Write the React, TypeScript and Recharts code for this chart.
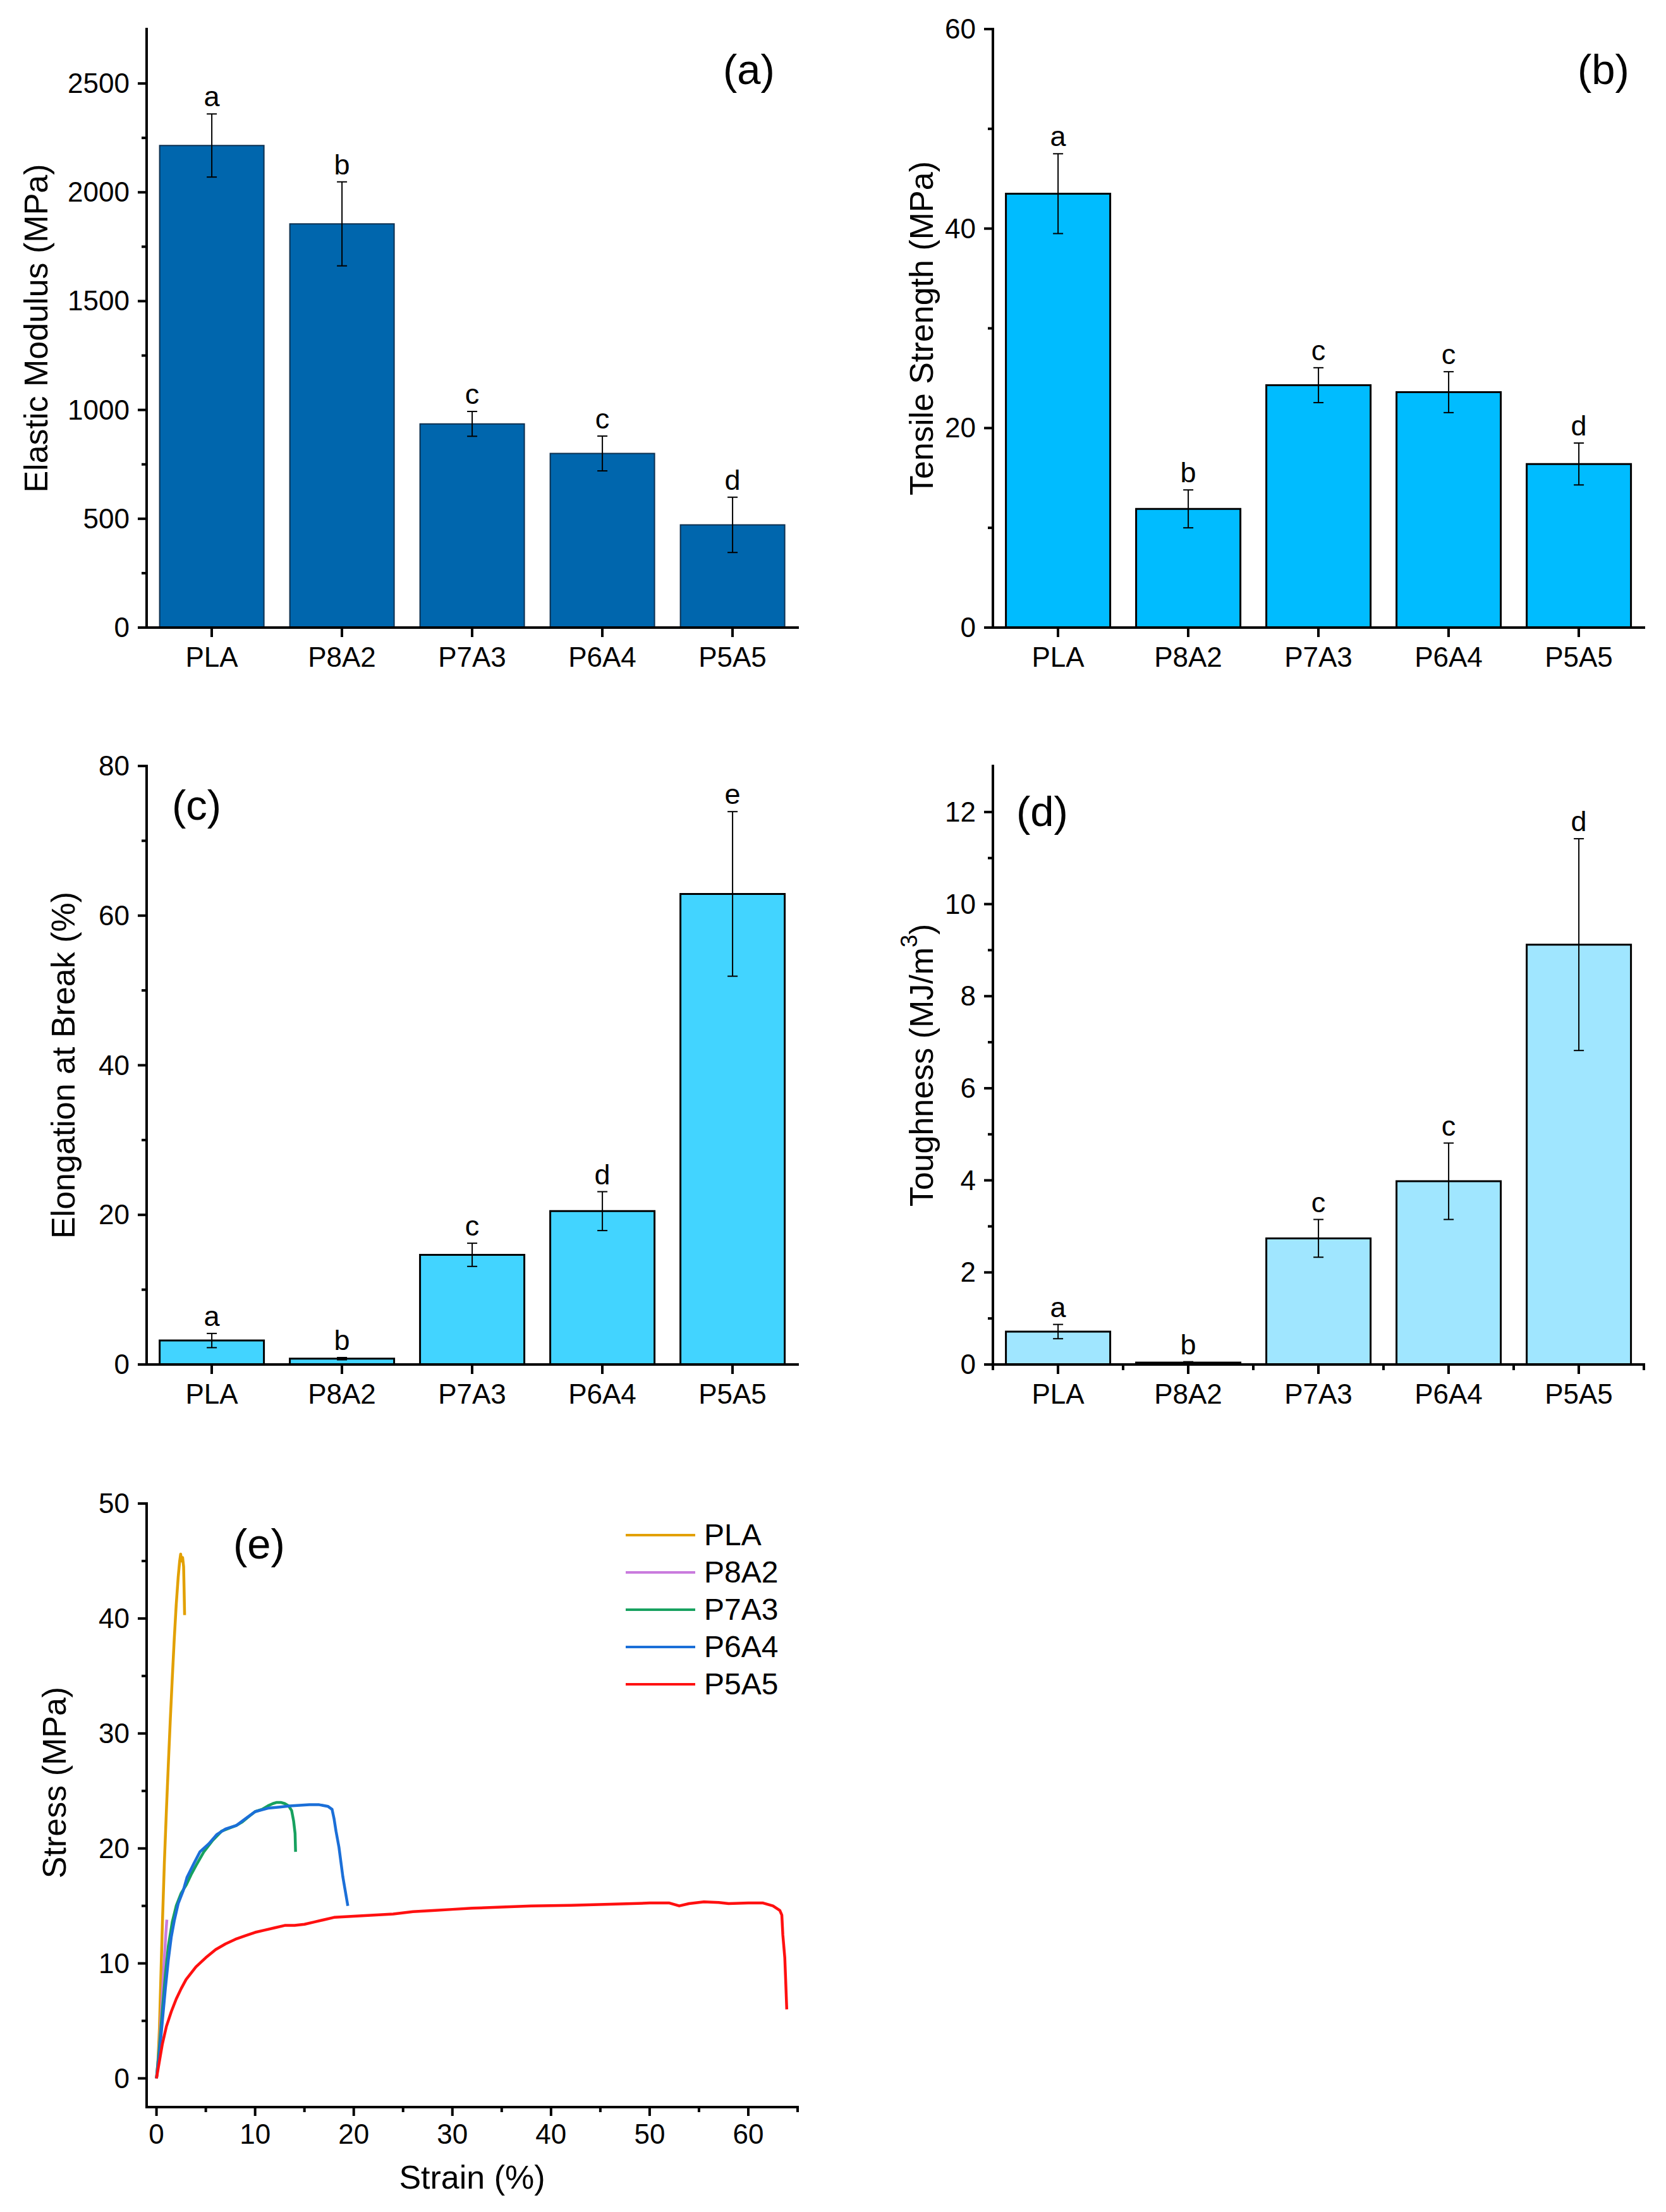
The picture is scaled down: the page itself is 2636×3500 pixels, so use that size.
import {
  ComposedChart,
  LineChart,
  Bar,
  Line,
  XAxis,
  YAxis,
  ErrorBar,
  LabelList,
  Legend,
  Customized,
} from 'recharts'

const FONT = '"Liberation Sans", Arial, Helvetica, sans-serif'

const categories = ['PLA', 'P8A2', 'P7A3', 'P6A4', 'P5A5']

// (a) elastic modulus
const modulus = [2215, 1855, 936, 800, 472]
const modulusErr = [145, 193, 57, 80, 127]
const modulusLetters = ['a', 'b', 'c', 'c', 'd']
const modulusTicks = [0, 500, 1000, 1500, 2000, 2500]
const modulusMinor = [250, 750, 1250, 1750, 2250]

// (b) tensile strength
const strength = [43.5, 11.9, 24.3, 23.6, 16.4]
const strengthErr = [4.0, 1.9, 1.75, 2.05, 2.1]
const strengthLetters = ['a', 'b', 'c', 'c', 'd']
const strengthTicks = [0, 20, 40, 60]
const strengthMinor = [10, 30, 50]

// (c) elongation at break
const elongation = [3.2, 0.78, 14.66, 20.5, 62.9]
const elongationErr = [0.95, 0.15, 1.55, 2.6, 11.0]
const elongationLetters = ['a', 'b', 'c', 'd', 'e']
const elongationTicks = [0, 20, 40, 60, 80]
const elongationMinor = [10, 30, 50, 70]

// (d) toughness
const toughness = [0.715, 0.04, 2.74, 3.98, 9.12]
const toughnessErr = [0.155, 0.02, 0.41, 0.83, 2.3]
const toughnessLetters = ['a', 'b', 'c', 'c', 'd']
const toughnessTicks = [0, 2, 4, 6, 8, 10, 12]
const toughnessMinor = [1, 3, 5, 7, 9, 11]

// (e) stress-strain curves
const plaStrain = [0, 0.15, 0.3, 0.45, 0.6, 0.8, 1.0, 1.2, 1.4, 1.6, 1.8, 2.0, 2.2, 2.35, 2.45, 2.55, 2.65, 2.75, 2.8, 2.85]
const plaStress = [0, 1.5, 4.4, 9, 13.5, 18.8, 23.2, 27.3, 31.2, 34.8, 38.2, 41.2, 43.6, 45.0, 45.6, 45.0, 45.3, 44.5, 42.5, 40.3]

const p8a2Strain = [0, 0.2, 0.4, 0.6, 0.8, 0.95, 1.05]
const p8a2Stress = [0, 1.8, 4.5, 7.5, 10.5, 12.6, 13.8]

const p7a3Strain = [0, 0.3, 0.6, 0.9, 1.2, 1.6, 2.0, 2.5, 3.0, 3.5, 4.0, 4.8, 5.7, 6.6, 7.5, 8.1, 8.7, 9.4, 10.0, 10.7, 11.3, 11.8, 12.2, 12.6, 13.0, 13.4, 13.7, 13.9, 14.05, 14.1]
const p7a3Stress = [0, 2.8, 6, 9, 11.5, 13.6, 15.0, 16.1, 16.8, 17.7, 18.5, 19.7, 20.7, 21.5, 21.8, 22.0, 22.3, 22.8, 23.2, 23.4, 23.7, 23.9, 24.0, 24.0, 23.9, 23.7, 23.3, 22.4, 21.3, 19.7]

const p6a4Strain = [0, 0.3, 0.6, 0.9, 1.2, 1.5, 1.8, 2.2, 2.7, 3.1, 3.8, 4.4, 5.3, 6.1, 7.0, 8.1, 9.2, 10.0, 11.3, 12.5, 13.5, 14.5, 15.5, 16.5, 17.4, 17.8, 18.0, 18.2, 18.5, 18.9, 19.1, 19.4]
const p6a4Stress = [0, 2.2, 5.0, 7.8, 10.3, 12.3, 13.7, 15.2, 16.3, 17.5, 18.7, 19.7, 20.4, 21.2, 21.7, 22.0, 22.7, 23.2, 23.5, 23.6, 23.7, 23.75, 23.8, 23.8, 23.65, 23.4, 22.6, 21.5, 20.1, 17.5, 16.5, 15.0]

const p5a5Strain = [0, 0.3, 0.6, 1.0, 1.5, 2.0, 2.5, 3.0, 4.0, 5.0, 6.0, 7.0, 8.0, 9.0, 10.0, 11.0, 12.0, 13.0, 14.0, 15.0, 16.0, 17.0, 18.0, 20.0, 22.0, 24.0, 26.0, 28.0, 30.0, 32.0, 35.0, 38.0, 42.0, 46.0, 50.0, 52.0, 53.0, 54.0, 55.5, 57.0, 58.0, 60.0, 61.5, 62.5, 63.2, 63.4, 63.5, 63.7, 63.8, 63.9]
const p5a5Stress = [0, 1.5, 3.0, 4.5, 5.8, 6.9, 7.8, 8.6, 9.7, 10.5, 11.2, 11.7, 12.1, 12.4, 12.7, 12.9, 13.1, 13.3, 13.3, 13.4, 13.6, 13.8, 14.0, 14.1, 14.2, 14.3, 14.5, 14.6, 14.7, 14.8, 14.9, 15.0, 15.05, 15.15, 15.25, 15.25, 15.0, 15.2, 15.35, 15.3, 15.2, 15.25, 15.25, 15.0, 14.6, 14.2, 12.5, 10.5, 8.3, 6.0]

const strainTicks = [0, 10, 20, 30, 40, 50, 60]
const strainMinor = [5, 15, 25, 35, 45, 55, 65]
const stressTicks = [0, 10, 20, 30, 40, 50]
const stressMinor = [5, 15, 25, 35, 45]

const curves = [
  { name: 'PLA', color: '#E2A000', strain: plaStrain, stress: plaStress },
  { name: 'P8A2', color: '#C97BDD', strain: p8a2Strain, stress: p8a2Stress },
  { name: 'P7A3', color: '#17A15F', strain: p7a3Strain, stress: p7a3Stress },
  { name: 'P6A4', color: '#1B6FD8', strain: p6a4Strain, stress: p6a4Stress },
  { name: 'P5A5', color: '#FF1010', strain: p5a5Strain, stress: p5a5Stress },
]

const AXIS_W = 232
const AXIS_H = 160
const M_TOP = 40
const M_RIGHT = 30
const FRAME = { stroke: '#000', strokeWidth: 4, strokeLinecap: 'square' as const }

function toRows(vals: number[], errs: number[], letters: string[]) {
  return categories.map((name, i) => ({
    name,
    value: vals[i],
    err: errs[i],
    top: vals[i] + errs[i],
    letter: letters[i],
  }))
}

function LeftTick(props: any) {
  const { x, y, payload, majors } = props
  const major = majors.includes(payload.value)
  return (
    <g>
      <line x1={x} x2={x - (major ? 14 : 8)} y1={y} y2={y} stroke="#000" strokeWidth={4} />
      {major && (
        <text x={x - 27} y={y + 15} textAnchor="end" fontSize={44} fontFamily={FONT} fill="#000">
          {payload.value}
        </text>
      )}
    </g>
  )
}

function BottomTick(props: any) {
  const { x, y, payload, majors } = props
  const major = majors.includes(payload.value)
  return (
    <g>
      <line x1={x} x2={x} y1={y} y2={y + (major ? 14 : 8)} stroke="#000" strokeWidth={4} />
      {major && (
        <text x={x} y={y + 58} textAnchor="middle" fontSize={44} fontFamily={FONT} fill="#000">
          {payload.value}
        </text>
      )}
    </g>
  )
}

function CategoryTick(props: any) {
  const { x, y, payload, index, half, bandTicks } = props
  return (
    <g>
      <line x1={x} x2={x} y1={y} y2={y + 15} stroke="#000" strokeWidth={4} />
      {bandTicks && <line x1={x - half} x2={x - half} y1={y} y2={y + 9} stroke="#000" strokeWidth={4} />}
      {bandTicks && index === categories.length - 1 && (
        <line x1={x + half} x2={x + half} y1={y} y2={y + 9} stroke="#000" strokeWidth={4} />
      )}
      <text x={x} y={y + 62} textAnchor="middle" fontSize={44} fontFamily={FONT} fill="#000">
        {payload.value}
      </text>
    </g>
  )
}

function LetterLabel(props: any) {
  return (
    <text x={props.x} y={props.y - 12} textAnchor="middle" fontSize={45} fontFamily={FONT} fill="#000">
      {props.value}
    </text>
  )
}

function PanelTag({ x, y, text }: { x: number; y: number; text: string }) {
  return (
    <text x={x} y={y} textAnchor="middle" fontSize={67} fontFamily={FONT} fill="#000">
      {text}
    </text>
  )
}

function yTitle(title: any, dx: number, dy = 0) {
  return (lp: any) => {
    const vb = lp.viewBox
    const cx = vb.x + vb.width + dx
    const cy = vb.y + vb.height / 2 + dy
    return (
      <text
        transform={`translate(${cx},${cy}) rotate(-90)`}
        textAnchor="middle"
        dominantBaseline="central"
        fontSize={52}
        fontFamily={FONT}
        fill="#000"
      >
        {title}
      </text>
    )
  }
}

interface Plot {
  x0: number
  y0: number
  x1: number
  y1: number
}

interface BarPanelProps {
  rows: ReturnType<typeof toRows>
  plot: Plot
  max: number
  majors: number[]
  minors: number[]
  fill: string
  stroke: string
  strokeWidth: number
  title: any
  titleX: number
  tag: string
  tagX: number
  tagY: number
  bandTicks?: boolean
}

function BarPanel(p: BarPanelProps) {
  const w = p.plot.x1 - p.plot.x0 + AXIS_W + M_RIGHT
  const h = p.plot.y1 - p.plot.y0 + M_TOP + AXIS_H
  const half = (p.plot.x1 - p.plot.x0) / categories.length / 2
  const ticks = [...p.majors, ...p.minors].sort((a, b) => a - b)
  return (
    <div style={{ position: 'absolute', left: p.plot.x0 - AXIS_W, top: p.plot.y0 - M_TOP }}>
      <ComposedChart
        width={w}
        height={h}
        data={p.rows}
        margin={{ top: M_TOP, right: M_RIGHT, bottom: 0, left: 0 }}
      >
        <XAxis
          dataKey="name"
          height={AXIS_H}
          interval={0}
          tickSize={0}
          tickMargin={0}
          tickLine={false}
          axisLine={FRAME}
          tick={(t: any) => <CategoryTick {...t} half={half} bandTicks={p.bandTicks} />}
        />
        <XAxis xAxisId="top" orientation="top" dataKey="name" height={0} tick={false} tickLine={false} axisLine={FRAME} />
        <YAxis
          width={AXIS_W}
          domain={[0, p.max]}
          ticks={ticks}
          allowDataOverflow
          interval={0}
          tickSize={0}
          tickMargin={0}
          tickLine={false}
          axisLine={FRAME}
          tick={(t: any) => <LeftTick {...t} majors={p.majors} />}
          label={yTitle(p.title, p.titleX)}
        />
        <YAxis yAxisId="right" orientation="right" width={0} domain={[0, 1]} tick={false} tickLine={false} axisLine={FRAME} />
        <Bar dataKey="value" fill={p.fill} stroke={p.stroke} strokeWidth={p.strokeWidth} isAnimationActive={false}>
          <ErrorBar dataKey="err" direction="y" width={8} strokeWidth={2} stroke="#000" />
        </Bar>
        <Line dataKey="top" stroke="none" dot={false} activeDot={false} isAnimationActive={false}>
          <LabelList dataKey="letter" content={LetterLabel} />
        </Line>
        <Customized component={<PanelTag x={AXIS_W + p.tagX} y={M_TOP + p.tagY} text={p.tag} />} />
      </ComposedChart>
    </div>
  )
}

function StressStrainPanel({ plot }: { plot: Plot }) {
  const w = plot.x1 - plot.x0 + AXIS_W + M_RIGHT
  const h = plot.y1 - plot.y0 + M_TOP + AXIS_H
  const xTicks = [...strainTicks, ...strainMinor].sort((a, b) => a - b)
  const yTicks = [...stressTicks, ...stressMinor].sort((a, b) => a - b)
  return (
    <div style={{ position: 'absolute', left: plot.x0 - AXIS_W, top: plot.y0 - M_TOP }}>
      <LineChart width={w} height={h} margin={{ top: M_TOP, right: M_RIGHT, bottom: 0, left: 0 }}>
        <XAxis
          type="number"
          dataKey="x"
          domain={[-1, 65]}
          ticks={xTicks}
          allowDataOverflow
          height={AXIS_H}
          interval={0}
          tickSize={0}
          tickMargin={0}
          tickLine={false}
          axisLine={FRAME}
          tick={(t: any) => <BottomTick {...t} majors={strainTicks} />}
          label={(lp: any) => {
            const vb = lp.viewBox
            return (
              <text x={vb.x + vb.width / 2} y={vb.y + 129} textAnchor="middle" fontSize={52} fontFamily={FONT} fill="#000">
                Strain (%)
              </text>
            )
          }}
        />
        <XAxis xAxisId="top" orientation="top" type="number" domain={[-1, 65]} height={0} tick={false} tickLine={false} axisLine={FRAME} />
        <YAxis
          type="number"
          width={AXIS_W}
          domain={[-2.5, 50]}
          ticks={yTicks}
          allowDataOverflow
          interval={0}
          tickSize={0}
          tickMargin={0}
          tickLine={false}
          axisLine={FRAME}
          tick={(t: any) => <LeftTick {...t} majors={stressTicks} />}
          label={yTitle('Stress (MPa)', -146, -36)}
        />
        <YAxis yAxisId="right" orientation="right" width={0} domain={[0, 1]} tick={false} tickLine={false} axisLine={FRAME} />
        {curves.map((c) => (
          <Line
            key={c.name}
            name={c.name}
            type="linear"
            dataKey="y"
            data={c.strain.map((x, i) => ({ x, y: c.stress[i] }))}
            stroke={c.color}
            strokeWidth={4.5}
            strokeLinejoin="round"
            dot={false}
            activeDot={false}
            isAnimationActive={false}
          />
        ))}
        <Legend
          layout="vertical"
          align="center"
          verticalAlign="middle"
          wrapperStyle={{ left: 990, top: 60, width: 260, height: 300 }}
          content={() => (
            <div>
              {curves.map((c) => (
                <div key={c.name} style={{ height: 59, display: 'flex', alignItems: 'center' }}>
                  <svg width={124} height={10} style={{ flex: 'none' }}>
                    <line x1={0} x2={110} y1={5} y2={5} stroke={c.color} strokeWidth={4} />
                  </svg>
                  <span style={{ fontSize: 48, fontFamily: FONT, color: '#000', lineHeight: 1 }}>{c.name}</span>
                </div>
              ))}
            </div>
          )}
        />
        <Customized component={<PanelTag x={AXIS_W + 178} y={M_TOP + 87} text="(e)" />} />
      </LineChart>
    </div>
  )
}

export default function App() {
  return (
    <div style={{ position: 'relative', width: 2636, height: 3500, background: '#fff', overflow: 'hidden' }}>
      <style>{'body{margin:0}'}</style>
      <BarPanel
        rows={toRows(modulus, modulusErr, modulusLetters)}
        plot={{ x0: 232, y0: 46, x1: 1262, y1: 993 }}
        max={2750}
        majors={modulusTicks}
        minors={modulusMinor}
        fill="#0066AD"
        stroke="#0d3050"
        strokeWidth={2}
        title="Elastic Modulus (MPa)"
        titleX={-175}
        tag="(a)"
        tagX={953}
        tagY={87}
      />
      <BarPanel
        rows={toRows(strength, strengthErr, strengthLetters)}
        plot={{ x0: 1571, y0: 46, x1: 2601, y1: 993 }}
        max={60}
        majors={strengthTicks}
        minors={strengthMinor}
        fill="#00BCFF"
        stroke="#000"
        strokeWidth={3}
        title="Tensile Strength (MPa)"
        titleX={-113}
        tag="(b)"
        tagX={966}
        tagY={87}
      />
      <BarPanel
        rows={toRows(elongation, elongationErr, elongationLetters)}
        plot={{ x0: 232, y0: 1212, x1: 1262, y1: 2159 }}
        max={80}
        majors={elongationTicks}
        minors={elongationMinor}
        fill="#42D4FF"
        stroke="#000"
        strokeWidth={3}
        title="Elongation at Break (%)"
        titleX={-132}
        tag="(c)"
        tagX={79}
        tagY={85}
      />
      <BarPanel
        rows={toRows(toughness, toughnessErr, toughnessLetters)}
        plot={{ x0: 1571, y0: 1212, x1: 2601, y1: 2159 }}
        max={13}
        majors={toughnessTicks}
        minors={toughnessMinor}
        fill="#A0E6FF"
        stroke="#000"
        strokeWidth={3}
        title={
          <>
            <tspan>Toughness (MJ/m</tspan>
            <tspan dy={-20} fontSize={36}>3</tspan>
            <tspan dy={20}>)</tspan>
          </>
        }
        titleX={-113}
        tag="(d)"
        tagX={78}
        tagY={95}
        bandTicks
      />
      <StressStrainPanel plot={{ x0: 232, y0: 2379, x1: 1262, y1: 3334 }} />
    </div>
  )
}
